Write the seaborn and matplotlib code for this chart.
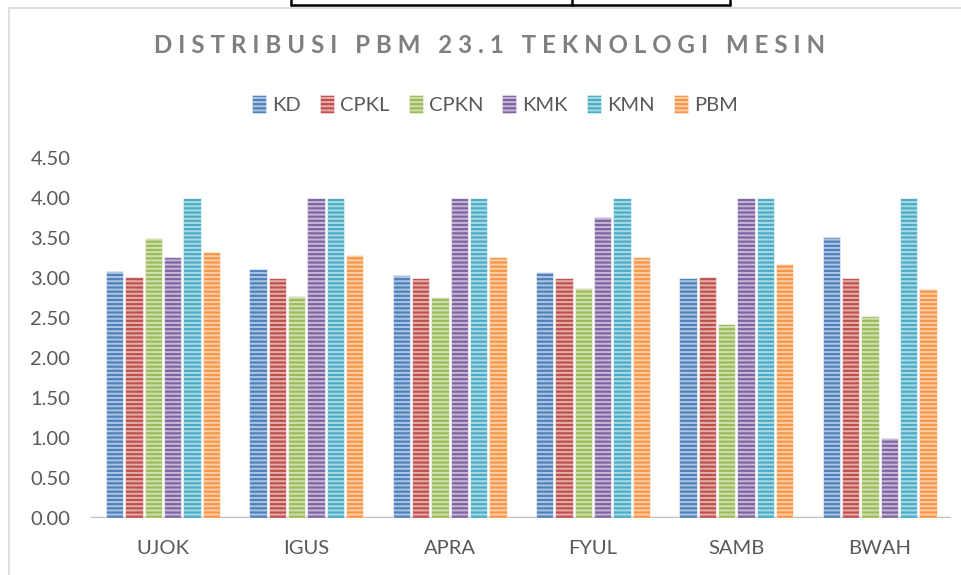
import numpy as np
import pandas as pd
import matplotlib.pyplot as plt
import seaborn as sns
from matplotlib.lines import Line2D
from matplotlib.patches import Patch

names = ["UJOK", "IGUS", "APRA", "FYUL", "SAMB", "BWAH"]
metrics = ["KD", "CPKL", "CPKN", "KMK", "KMN", "PBM"]
kd = [3.09, 3.11, 3.04, 3.08, 3.00, 3.51]
cpkl = [3.01, 3.00, 3.00, 3.00, 3.01, 3.00]
cpkn = [3.50, 2.78, 2.77, 2.88, 2.43, 2.53]
kmk = [3.26, 4.00, 4.00, 3.76, 4.00, 1.00]
kmn = [4.00, 4.00, 4.00, 4.00, 4.00, 4.00]
pbm = [3.33, 3.29, 3.27, 3.26, 3.18, 2.86]
yticks = [0, 0.5, 1, 1.5, 2, 2.5, 3, 3.5, 4, 4.5]

_COLORS = ["#4F81BD", "#C0504D", "#9BBB59", "#8064A2", "#4BACC6", "#F79646"]
_TEXT = "#595959"

series = [kd, cpkl, cpkn, kmk, kmn, pbm]
df = pd.DataFrame(
    [(n, m, s[i]) for m, s in zip(metrics, series) for i, n in enumerate(names)],
    columns=["name", "metric", "value"],
)

sns.set_style("white")
plt.rcParams["font.family"] = ["Lato", "DejaVu Sans"]
plt.rcParams["hatch.linewidth"] = 1.4

fig = plt.figure(figsize=(9.61, 5.75), dpi=100)
ax = fig.add_axes([0.095, 0.099, 0.895, 0.626])

sns.barplot(
    data=df, x="name", y="value", hue="metric", hue_order=metrics,
    order=names, palette=_COLORS, saturation=1, width=0.81, gap=0.1,
    legend=False, ax=ax,
)

# Excel-style striped fill
for bar in ax.patches:
    bar.set_hatch("----")
    bar.set_edgecolor((1, 1, 1, 0.55))
    bar.set_linewidth(0.8)

for s in ax.spines.values():
    s.set_visible(False)
ax.axhline(0, color="#BFBFBF", lw=2.5, zorder=0)
ax.set_ylim(0, 4.5)
ax.set_xlim(-0.5, len(names) - 0.5)
ax.set_yticks(yticks)
ax.set_yticklabels([f"{v:.2f}" for v in yticks])
ax.tick_params(axis="y", length=0, pad=15, labelsize=14.5, labelcolor=_TEXT)
ax.tick_params(axis="x", length=0, pad=16, labelsize=14.5, labelcolor=_TEXT)
ax.set_xlabel("")
ax.set_ylabel("")
ax.grid(False)

handles = [Patch(facecolor=c, edgecolor=(1, 1, 1, 0.55), hatch="----", lw=0.5)
           for c in _COLORS]
fig.legend(handles, metrics, loc="center", bbox_to_anchor=(0.515, 0.818),
           ncol=6, frameon=False, fontsize=14.5, labelcolor=_TEXT,
           handlelength=0.7, handleheight=1.0, handletextpad=0.3,
           columnspacing=0.95)

title = "DISTRIBUSI PBM 23.1 TEKNOLOGI MESIN"
fig.text(0.509, 0.921, "\u2009\u2009".join(title), ha="center", va="center",
         fontsize=17.3, fontweight="bold", color="#7F7F7F")

# chart frame and the table edge above it
gray = "#D9D9D9"
fig.add_artist(Line2D([9 / 961, 1], [1 - 8 / 575] * 2, color=gray, lw=1.2))
fig.add_artist(Line2D([9 / 961] * 2, [0, 1 - 8 / 575], color=gray, lw=1.2))
fig.add_artist(Line2D([291 / 961, 730 / 961], [1 - 5 / 575] * 2, color="black", lw=1.8))
for x in (291, 572, 730):
    fig.add_artist(Line2D([x / 961] * 2, [1 - 5 / 575, 1], color="black", lw=1.8))

fig.savefig("out.png", dpi=100)
